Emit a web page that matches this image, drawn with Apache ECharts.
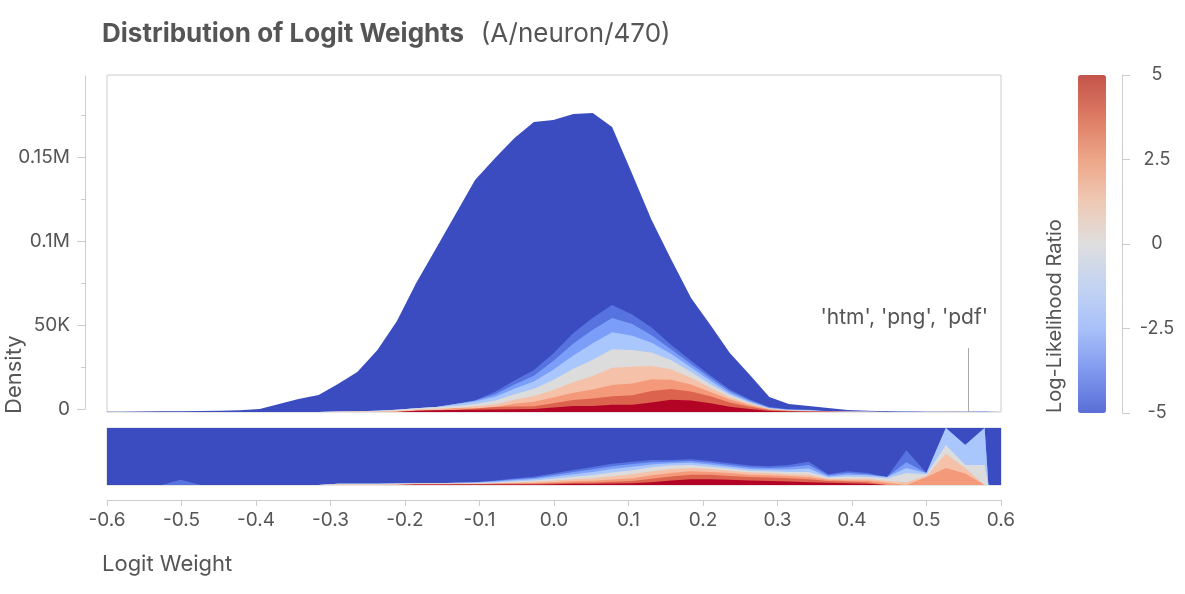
<!DOCTYPE html>
<html>
<head>
<meta charset="utf-8">
<title>Distribution of Logit Weights</title>
<script src="https://cdn.jsdelivr.net/npm/echarts@6/dist/echarts.min.js"></script>
<style>
  html, body { margin: 0; padding: 0; background: #fff; }
  #chart { width: 1185px; height: 594px; }
</style>
</head>
<body>
<div id="chart"></div>
<script>
// logit weight at each bin
var logitWeights = [-0.6,
  -0.58, -0.554, -0.527, -0.501, -0.474, -0.448, -0.422, -0.395, -0.369, -0.343,
  -0.316, -0.29, -0.264, -0.237, -0.211, -0.185, -0.158, -0.132, -0.106, -0.079,
  -0.053, -0.027, -0.001, 0.026, 0.052, 0.078, 0.105, 0.131, 0.157, 0.184,
  0.21, 0.236, 0.263, 0.289, 0.315, 0.342, 0.368, 0.394, 0.421, 0.447,
  0.473, 0.5, 0.526, 0.552, 0.578,
  0.583, 0.6];

// total density per bin
var densityTotals = [100,
  200, 300, 400, 500, 600, 800, 1000, 1800, 4800, 7700,
  10100, 16700, 23800, 36900, 54000, 76800, 97600, 117900, 138100, 151200,
  163100, 172600, 173800, 177400, 178000, 169700, 141700, 114300, 91100, 67900,
  51800, 35100, 22000, 8900, 4800, 3600, 2400, 1200, 700, 500,
  300, 200, 150, 100, 80,
  80, 80];

// share (%) of each bin per log-likelihood ratio band, rest is llr -5
var shareLlr5 = [0,
  0, 0, 0, 0, 0, 0, 0, 0, 0, 0,
  0, 0, 0, 0, 0, 1, 1, 1, 1, 1,
  1, 1, 1.5, 2, 2, 2.5, 3, 5, 8, 10,
  10, 9, 8, 7, 6, 5, 4, 3, 2, 0,
  0, 0, 0, 0, 0,
  0, 0];
var shareLlr375 = [0,
  0, 0, 0, 0, 0, 0, 0, 0, 0, 0,
  0, 0, 0, 0, 0, 0, 0, 0, 0.5, 1,
  1, 1, 1.5, 2, 2.5, 3, 4, 6, 7, 8,
  8, 7, 6, 6, 6, 5, 3, 3, 3, 0,
  0, 0, 0, 0, 0,
  0, 0];
var shareLlr25 = [0,
  0, 0, 0, 0, 0, 0, 0, 0, 0, 0,
  0, 0, 0, 0, 0.5, 0, 0, 1, 0, 0,
  1, 1.5, 2, 2.5, 3, 4, 5, 6, 6, 6,
  5, 5, 4, 4, 4, 4, 2, 2, 3, 4,
  0, 14, 30, 20, 0,
  0, 0];
var shareLlr125 = [0,
  0, 0, 0, 0, 0, 0, 0, 0, 0, 0,
  0, 1, 1, 1, 1, 1, 1, 0, 1, 1,
  1.5, 2, 2.5, 3.5, 4.5, 6, 7, 7, 7, 6,
  5, 4, 4, 4, 3, 4, 2, 3, 3, 3,
  5, 2, 25, 10, 0,
  0, 0];
var shareLlr0 = [0,
  0, 0, 0, 0, 0, 0, 0, 0, 0, 0,
  0, 1, 1, 1, 1, 1, 1, 1, 1, 1.5,
  2, 2.5, 3.5, 4.5, 5.5, 6.5, 7, 7, 6, 5,
  4, 4, 3, 3, 4, 5, 2, 4, 3, 5,
  16, 3, 15, 5, 35,
  0, 0];
var shareLlrM125 = [0,
  0, 0, 0, 0, 0, 0, 0, 0, 0, 0,
  0, 0, 0, 0, 0, 0, 0, 1, 1, 1.5,
  2, 2.5, 3.5, 4.5, 5.5, 6, 6, 5, 4, 4,
  4, 3, 3, 3, 4, 6, 2, 3, 3, 2,
  9, 2, 30, 35, 65,
  0, 0];
var shareLlrM25 = [0,
  0, 0, 0, 0, 0, 0, 0, 0, 0, 0,
  0, 0, 0, 0, 0, 0, 0, 0, 0.5, 1,
  1.5, 2, 3, 4, 4.5, 5, 5, 4, 3, 3,
  3, 3, 3, 3, 4, 6, 2, 3, 2, 0,
  10, 0, 0, 0, 0,
  0, 0];
var shareLlrM375 = [0,
  0, 0, 0, 9, 0, 0, 0, 0, 0, 0,
  0, 0, 0, 0, 0, 0, 0, 0, 0, 1,
  1.5, 2, 2.5, 3.5, 4, 4.5, 4, 4, 3, 3,
  3, 3, 3, 3, 4, 6, 2, 3, 2, 0,
  21, 0, 0, 0, 0,
  0, 0];

// bottom to top
var llrBands = [
  { llr: 5, share: shareLlr5 },
  { llr: 3.75, share: shareLlr375 },
  { llr: 2.5, share: shareLlr25 },
  { llr: 1.25, share: shareLlr125 },
  { llr: 0, share: shareLlr0 },
  { llr: -1.25, share: shareLlrM125 },
  { llr: -2.5, share: shareLlrM25 },
  { llr: -3.75, share: shareLlrM375 }
];

var annotationText = "'htm', 'png', 'pdf'";
var annotationX = 0.556;
var annotationTop = 38100;

var densityTicks = [0, 50000, 100000, 150000];
var densityMinorTicks = [25000, 75000, 125000, 175000];

// coolwarm fills
var bandFill = {
  '5': '#b40426', '3.75': '#dc644f', '2.5': '#f49a7b', '1.25': '#f5c1a9',
  '0': '#dddcdc', '-1.25': '#a9c6fd', '-2.5': '#7b9ff9', '-3.75': '#5673e0',
  '-5': '#3b4cc0'
};
var barColors = ['#5a6ed6', '#8099ee', '#a8c1f8', '#c3d3f2', '#dedede',
  '#efc9b4', '#eda688', '#dd7b64', '#c4544a'];

var textColor = '#555';
var lineColor = '#cccccc';
var fontFamily = 'Inter, "Noto Sans", sans-serif';

// running share from the bottom band up; the llr -5 band fills to 100%
var bands = llrBands.concat([{ llr: -5, share: null }]);
var running = logitWeights.map(function () { return 0; });
bands.forEach(function (b) {
  b.cum = logitWeights.map(function (x, j) {
    running[j] = b.share ? running[j] + b.share[j] : 100;
    return running[j];
  });
});

// every area fills from zero, drawn from the top band down so lower bands sit in front
var series = [];
var drawOrder = bands.slice().reverse();
drawOrder.forEach(function (b, i) {
  var s = {
    type: 'line',
    xAxisIndex: 0,
    yAxisIndex: 0,
    symbol: 'none',
    silent: true,
    lineStyle: { width: 0 },
    areaStyle: { color: bandFill[String(b.llr)], opacity: 1 },
    data: logitWeights.map(function (x, j) {
      return [x, densityTotals[j] * b.cum[j] / 100];
    })
  };
  if (i === drawOrder.length - 1) {
    s.markLine = {
      silent: true,
      symbol: 'none',
      label: { show: false },
      lineStyle: { color: '#aaaaaa', width: 1, type: 'solid' },
      data: [[{ coord: [annotationX, 0] }, { coord: [annotationX, annotationTop] }]]
    };
    s.markPoint = {
      silent: true,
      symbol: 'rect',
      symbolSize: 0,
      label: {
        show: true,
        position: 'inside',
        offset: [-64, -30],
        formatter: annotationText,
        color: textColor,
        fontSize: 21,
        fontFamily: fontFamily
      },
      data: [{ coord: [annotationX, annotationTop] }]
    };
  }
  series.push(s);
});
drawOrder.forEach(function (b) {
  series.push({
    type: 'line',
    xAxisIndex: 1,
    yAxisIndex: 1,
    symbol: 'none',
    silent: true,
    lineStyle: { width: 0 },
    areaStyle: { color: bandFill[String(b.llr)], opacity: 1 },
    data: logitWeights.map(function (x, j) { return [x, b.cum[j]]; })
  });
});
// holder series for the colour bar
series.push({ type: 'scatter', xAxisIndex: 3, yAxisIndex: 4, data: [] });
var colorBarSeries = series.length - 1;

function densityLabel(v) {
  if (v === 0) return '0';
  if (v < 100000) return (v / 1000) + 'K';
  return (v / 1000000) + 'M';
}

var chart = echarts.init(document.getElementById('chart'), null, { renderer: 'canvas' });
chart.setOption({
  animation: false,
  backgroundColor: '#fff',
  textStyle: { fontFamily: fontFamily },
  title: {
    left: 102,
    top: 21,
    padding: 0,
    text: '{b|Distribution of Logit Weights}  {n|(A/neuron/470)}',
    textStyle: {
      rich: {
        b: { fontSize: 26, fontWeight: 'bold', color: textColor, fontFamily: fontFamily },
        n: { fontSize: 26, fontWeight: 'normal', color: textColor, fontFamily: fontFamily, padding: [0, 0, 0, 8] }
      }
    }
  },
  grid: [
    { left: 107, top: 75, width: 894, height: 337, show: true, borderColor: lineColor, borderWidth: 1, backgroundColor: 'transparent' },
    { left: 107, top: 428, width: 894, height: 57, show: true, borderColor: lineColor, borderWidth: 1, backgroundColor: 'transparent' },
    { left: 107, top: 76, width: 894, height: 333 },
    { left: 1121, top: 75, width: 1, height: 338 }
  ],
  xAxis: [
    { gridIndex: 0, type: 'value', min: -0.6, max: 0.6, show: false },
    {
      gridIndex: 1, type: 'value', min: -0.6, max: 0.6, interval: 0.1, offset: 15,
      axisLine: { show: true, onZero: false, lineStyle: { color: lineColor } },
      axisTick: { show: true, length: 6, lineStyle: { color: lineColor } },
      splitLine: { show: false },
      axisLabel: {
        color: textColor, fontSize: 19, margin: 11, fontFamily: fontFamily,
        formatter: function (v) { return Math.abs(v) < 1e-9 ? '0.0' : v.toFixed(1); }
      }
    },
    { gridIndex: 2, type: 'value', min: -0.6, max: 0.6, show: false },
    { gridIndex: 3, type: 'value', min: 0, max: 1, show: false }
  ],
  yAxis: [
    { gridIndex: 0, type: 'value', min: 0, max: 200600, show: false },
    { gridIndex: 1, type: 'value', min: 0, max: 100, show: false },
    {
      gridIndex: 2, type: 'value', position: 'left', min: 0, max: 198200, offset: 22,
      axisLine: { show: true, onZero: false, lineStyle: { color: lineColor } },
      axisTick: { show: true, length: 8, customValues: densityTicks, lineStyle: { color: lineColor } },
      splitLine: { show: false },
      axisLabel: {
        color: textColor, fontSize: 19, margin: 15, fontFamily: fontFamily,
        customValues: densityTicks,
        formatter: densityLabel
      }
    },
    {
      gridIndex: 2, type: 'value', position: 'left', min: 0, max: 198200, offset: 22,
      axisLine: { show: false, onZero: false },
      axisTick: { show: true, length: 4, customValues: densityMinorTicks, lineStyle: { color: lineColor } },
      splitLine: { show: false },
      axisLabel: { show: false }
    },
    {
      gridIndex: 3, type: 'value', position: 'right', min: -5, max: 5, interval: 2.5,
      axisLine: { show: true, onZero: false, lineStyle: { color: lineColor } },
      axisTick: { show: true, length: 8, lineStyle: { color: lineColor } },
      splitLine: { show: false },
      axisLabel: { color: textColor, fontSize: 18, margin: 35, align: 'center', fontFamily: fontFamily }
    }
  ],
  visualMap: {
    type: 'continuous',
    min: -5,
    max: 5,
    left: 1078,
    top: 75,
    padding: 0,
    itemWidth: 28,
    itemHeight: 338,
    calculable: false,
    hoverLink: false,
    seriesIndex: colorBarSeries,
    inRange: { color: barColors }
  },
  graphic: [
    {
      type: 'text', x: 14, y: 414, rotation: Math.PI / 2,
      style: { text: 'Density', font: '22px ' + fontFamily, fill: textColor, align: 'left', verticalAlign: 'middle' }
    },
    {
      type: 'text', x: 1055, y: 413, rotation: Math.PI / 2,
      style: { text: 'Log-Likelihood Ratio', font: '20px ' + fontFamily, fill: textColor, align: 'left', verticalAlign: 'middle' }
    },
    {
      type: 'text', x: 102, y: 564,
      style: { text: 'Logit Weight', font: '22px ' + fontFamily, fill: textColor, align: 'left', verticalAlign: 'middle' }
    }
  ],
  series: series
});
</script>
</body>
</html>
